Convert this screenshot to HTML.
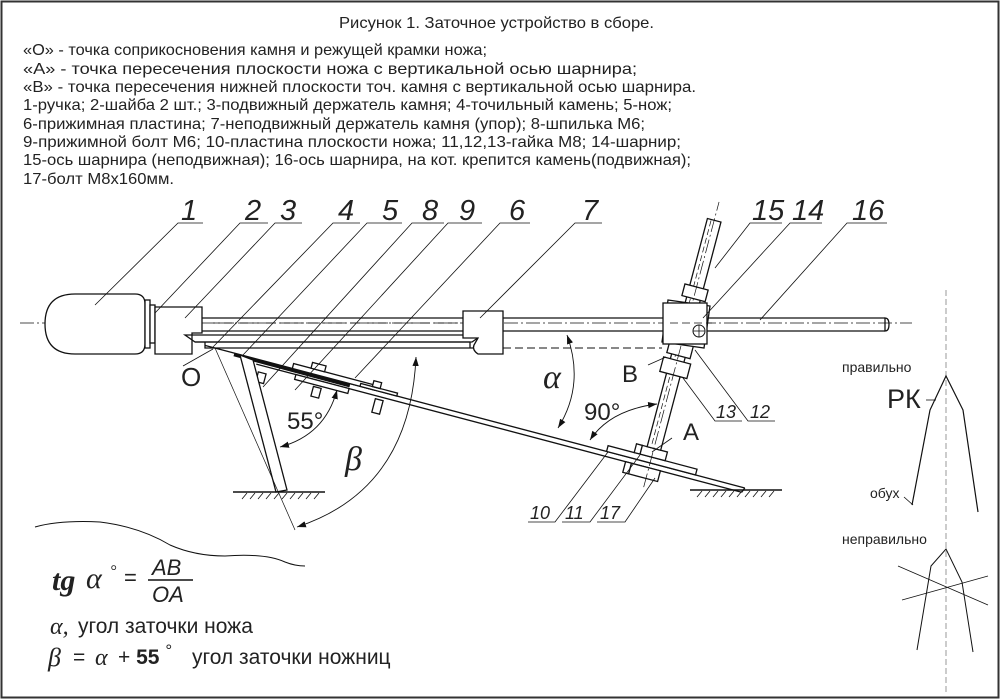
<!DOCTYPE html>
<html><head><meta charset="utf-8"><style>
html,body{margin:0;padding:0;background:#fff}
svg{display:block}
.t{font-family:"Liberation Sans",sans-serif;font-size:16px;fill:#222}
.n{font-family:"Liberation Sans",sans-serif;font-style:italic;fill:#222}
.s{font-family:"Liberation Serif",serif;font-style:italic;fill:#222}
</style></head><body>
<svg width="1000" height="699" viewBox="0 0 1000 699" xmlns="http://www.w3.org/2000/svg">
<defs>
<marker id="ar" viewBox="0 0 10 10" refX="10" refY="5" markerWidth="9" markerHeight="9" orient="auto-start-reverse" markerUnits="userSpaceOnUse"><path d="M0,1.5 L10,5 L0,8.5 z" fill="#111"/></marker>
</defs>
<rect x="1.5" y="1.5" width="997" height="696" fill="none" stroke="#333" stroke-width="2"/>
<g lengthAdjust="spacingAndGlyphs">
<text class="t" x="339" y="28" textLength="315" lengthAdjust="spacingAndGlyphs">Рисунок 1. Заточное устройство в сборе.</text>
<text class="t" x="23" y="55" textLength="464" lengthAdjust="spacingAndGlyphs">«О» - точка соприкосновения камня и режущей крамки ножа;</text>
<text class="t" x="23" y="74" textLength="614" lengthAdjust="spacingAndGlyphs">«А» - точка пересечения плоскости ножа с вертикальной осью шарнира;</text>
<text class="t" x="23" y="92" textLength="673" lengthAdjust="spacingAndGlyphs">«В» - точка пересечения нижней плоскости точ. камня с вертикальной осью шарнира.</text>
<text class="t" x="23" y="110" textLength="649" lengthAdjust="spacingAndGlyphs">1-ручка; 2-шайба 2 шт.; 3-подвижный держатель камня; 4-точильный камень; 5-нож;</text>
<text class="t" x="23" y="129" textLength="622" lengthAdjust="spacingAndGlyphs">6-прижимная пластина; 7-неподвижный держатель камня (упор); 8-шпилька М6;</text>
<text class="t" x="23" y="147" textLength="658" lengthAdjust="spacingAndGlyphs">9-прижимной болт М6; 10-пластина плоскости ножа; 11,12,13-гайка М8; 14-шарнир;</text>
<text class="t" x="23" y="165" textLength="668" lengthAdjust="spacingAndGlyphs">15-ось шарнира (неподвижная); 16-ось шарнира, на кот. крепится камень(подвижная);</text>
<text class="t" x="23" y="184" textLength="151" lengthAdjust="spacingAndGlyphs">17-болт М8х160мм.</text>
</g>

<g stroke="#111" fill="none" stroke-width="1.3">
<line x1="20" y1="323" x2="912" y2="323" stroke-width="0.8" stroke-dasharray="14,3,2,3"/>
<path d="M75,294 H135 Q145,294 145,304 V344 Q145,354 135,354 H75 Q45,354 45,324 Q45,294 75,294 Z" fill="#fff"/>
<rect x="145" y="300" width="5" height="48" fill="#fff"/>
<rect x="150" y="305" width="5" height="38" fill="#fff"/>
<path d="M155,307 H202 V333 H192 V354 H155 Z" fill="#fff"/>
<line x1="202" y1="318" x2="463" y2="318"/>
<line x1="202" y1="331" x2="463" y2="331"/>
<path d="M185,335 H482 L472,342 H195 Z"/>
<line x1="195" y1="342" x2="470" y2="342"/>
<path d="M205,342 V348 H480"/>
<line x1="470" y1="342" x2="470" y2="348"/>
<path d="M463,311 H503 V354 H478 Q472,350 474,345 L478,338 H463 Z" fill="#fff"/>
<line x1="503" y1="348" x2="662" y2="348" stroke-dasharray="8,4" stroke-width="0.9"/>
<line x1="707" y1="318" x2="885" y2="318"/>
<line x1="707" y1="331" x2="885" y2="331"/>
<path d="M885,318 Q889,318 889,324.5 Q889,331 885,331 Z"/>
<line x1="503" y1="318" x2="663" y2="318"/>
<line x1="503" y1="331" x2="663" y2="331"/>
<line x1="210" y1="323" x2="460" y2="323" stroke-dasharray="10,4" stroke-width="0.8"/>

<g transform="translate(215,348) rotate(14.8)">
<line x1="-10" y1="0" x2="548" y2="0"/>
<line x1="44" y1="5" x2="546" y2="5"/>
<line x1="548" y1="0" x2="546" y2="5"/>
<line x1="20" y1="1.5" x2="140" y2="2" stroke-width="3.5"/>
<rect x="80" y="-5" width="85" height="5" fill="#fff"/>
<rect x="98" y="-11" width="14" height="6" fill="#fff"/>
<rect x="85" y="5" width="55" height="5" fill="#fff"/>
<rect x="48" y="12" width="8" height="10" fill="#fff"/>
<rect x="105" y="12" width="8" height="10" fill="#fff"/>
<rect x="168" y="8" width="8" height="14" fill="#fff"/>
<rect x="150" y="-3" width="38" height="3" fill="#fff"/>
<rect x="162" y="-9" width="8" height="6" fill="#fff"/>
<rect x="405" y="-6" width="92" height="6" fill="#fff"/>
<rect x="438" y="-15" width="26" height="9" fill="#fff"/>
<rect x="432" y="-15" width="6" height="9" fill="#fff"/>
<rect x="432" y="5" width="30" height="11" fill="#fff"/>
<rect x="426" y="5" width="6" height="11" fill="#fff"/>
<rect x="443" y="-251" width="14" height="236" fill="#fff"/>
<line x1="447" y1="-250" x2="447" y2="-16" stroke-width="0.7" stroke-dasharray="6,3"/>
<rect x="438" y="-182" width="24" height="12" fill="#fff"/>
<rect x="438" y="-124" width="24" height="13" fill="#fff"/>
<rect x="436" y="-106" width="28" height="15" fill="#fff"/>
<line x1="450" y1="25" x2="450" y2="-270" stroke-width="0.7" stroke-dasharray="14,3,2,3"/>
</g>
<path d="M668,300 L710,306 L704,348 L662,342 Z" fill="#fff"/>
<rect x="663" y="303" width="44" height="41" fill="#fff"/>
<circle cx="699" cy="331" r="6" stroke-width="1"/>
<line x1="693" y1="331" x2="705" y2="331" stroke-width="0.8"/>
<line x1="699" y1="325" x2="699" y2="337" stroke-width="0.8"/>
<line x1="670" y1="323" x2="712" y2="323" stroke-dasharray="8,4" stroke-width="0.8"/>

<path d="M240,355 L253,360 L287,490 L276,492 Z" fill="#fff"/>
<line x1="233" y1="492" x2="325" y2="492" stroke-width="1.5"/>
<path d="M242,499 l5,-6 M250,499 l5,-6 M258,499 l5,-6 M266,499 l5,-6 M274,499 l5,-6 M282,499 l5,-6 M290,499 l5,-6 M298,499 l5,-6 M306,499 l5,-6 M314,499 l5,-6" stroke-width="0.8"/>
<line x1="690" y1="490" x2="782" y2="490" stroke-width="1.5"/>
<path d="M697,497 l5,-6 M705,497 l5,-6 M713,497 l5,-6 M721,497 l5,-6 M729,497 l5,-6 M737,497 l5,-6 M745,497 l5,-6 M753,497 l5,-6 M761,497 l5,-6 M769,497 l5,-6" stroke-width="0.8"/>
<line x1="215" y1="348" x2="295" y2="530" stroke-width="0.7"/>

<path d="M280,447 Q325,435 337,390" stroke-width="0.9" marker-start="url(#ar)" marker-end="url(#ar)"/>
<path d="M297,527 Q410,490 416,357" stroke-width="0.9" marker-start="url(#ar)" marker-end="url(#ar)"/>
<path d="M567,335 Q585,385 558,428" stroke-width="0.9" marker-start="url(#ar)" marker-end="url(#ar)"/>
<path d="M590,440 Q610,410 657,404" stroke-width="0.9" marker-start="url(#ar)" marker-end="url(#ar)"/>

<g stroke-width="0.8">
<path d="M203,223 H178 L95,305"/>
<path d="M268,223 H240 L155,313"/>
<path d="M302,223 H275 L185,318"/>
<path d="M360,223 H333 L213,347"/>
<path d="M402,223 H367 L243,355"/>
<path d="M444,223 H412 L263,387"/>
<path d="M482,223 H448 L295,390"/>
<path d="M530,223 H500 L355,378"/>
<path d="M602,223 H575 L480,318"/>
<path d="M782,223 H750 L715,268"/>
<path d="M822,223 H790 L703,318"/>
<path d="M887,223 H847 L760,320"/>
<path d="M742,421 H715 L683,378"/>
<path d="M775,421 H748 L695,350"/>
<path d="M528,522 H555 L608,452"/>
<path d="M562,522 H590 L640,455"/>
<path d="M597,522 H625 L655,478"/>
<path d="M183,366 L213,349"/>
<path d="M648,365 L666,357"/>
<path d="M672,438 L652,452"/>
</g>

<path d="M35,527 Q60,520 100,522 Q140,527 170,545 Q195,556 225,556 Q265,553 285,562 Q295,566 305,566" stroke-width="1"/>

<line x1="946" y1="290" x2="946" y2="692" stroke="#aaa" stroke-width="1.2" stroke-dasharray="6,3"/>
<path d="M912,505 L930,410 L946,376 L963,410 L978,512" stroke-width="1.2"/>
<path d="M917,650 L931,566 L946,549 L962,582 L973,652" stroke-width="1"/>
<line x1="898" y1="566" x2="988" y2="605" stroke-width="0.8"/>
<line x1="902" y1="600" x2="988" y2="576" stroke-width="0.8"/>
<line x1="926" y1="400" x2="936" y2="400" stroke-width="0.8"/>
<line x1="904" y1="497" x2="913" y2="505" stroke-width="0.8"/>

<line x1="148" y1="580" x2="193" y2="580" stroke-width="1.5"/>
</g>

<g class="n" font-size="29">
<text x="181" y="220">1</text>
<text x="245" y="220">2</text>
<text x="280" y="220">3</text>
<text x="338" y="220">4</text>
<text x="382" y="220">5</text>
<text x="422" y="220">8</text>
<text x="459" y="220">9</text>
<text x="509" y="220">6</text>
<text x="582" y="220">7</text>
<text x="752" y="220">15</text>
<text x="792" y="220">14</text>
<text x="852" y="220">16</text>
</g>
<g class="n" font-size="18">
<text x="716" y="418">13</text>
<text x="750" y="418">12</text>
<text x="530" y="519">10</text>
<text x="565" y="519">11</text>
<text x="600" y="519">17</text>
</g>
<g font-family="Liberation Sans,sans-serif" fill="#222">
<text x="181" y="386" font-size="26">O</text>
<text x="622" y="382" font-size="24">B</text>
<text x="683" y="440" font-size="24">A</text>
<text x="584" y="420" font-size="24">90°</text>
<text x="287" y="429" font-size="24">55°</text>
<text x="842" y="372" font-size="14">правильно</text>
<text x="887" y="408" font-size="27">РК</text>
<text x="870" y="498" font-size="14">обух</text>
<text x="842" y="544" font-size="14">неправильно</text>
<text x="152" y="575" font-size="22" font-style="italic">AB</text>
<text x="152" y="602" font-size="22" font-style="italic">OA</text>
<text x="124" y="585" font-size="22">=</text>
<text x="78" y="633" font-size="21">угол заточки ножа</text>
<text x="73" y="664" font-size="21">=</text>
<text x="118" y="664" font-size="21">+ <tspan font-weight="bold">55</tspan> <tspan dy="-8" font-size="17">°</tspan></text>
<text x="192" y="664" font-size="21">угол заточки ножниц</text>
</g>
<g class="s">
<text x="543" y="388" font-size="34">α</text>
<text x="345" y="470" font-size="34">β</text>
<text x="52" y="590" font-size="30" font-weight="bold">tg</text>
<text x="86" y="588" font-size="30">α</text>
<text x="110" y="576" font-size="16">°</text>
<text x="50" y="634" font-size="24">α,</text>
<text x="48" y="666" font-size="26">β</text>
<text x="95" y="665" font-size="24">α</text>
</g>
</svg>
</body></html>
